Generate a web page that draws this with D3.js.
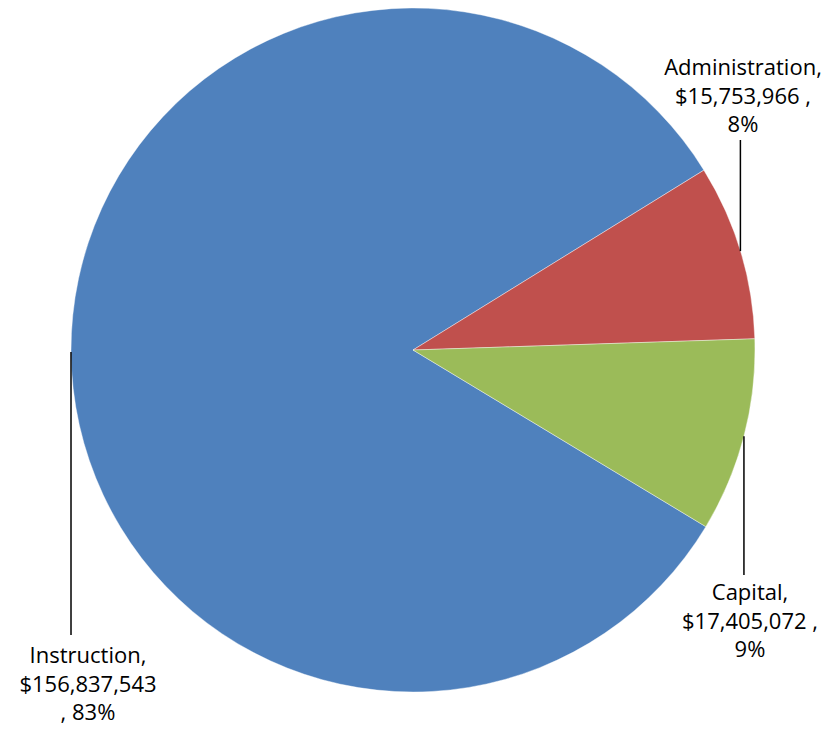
<!DOCTYPE html>
<html>
<head>
<meta charset="utf-8">
<script src="https://cdn.jsdelivr.net/npm/d3@7"></script>
<style>
  html, body { margin: 0; padding: 0; background: #fff; }
  svg { display: block; }
  text { font-family: "Open Sans", "Noto Sans", sans-serif; fill: #000; }
</style>
</head>
<body>
<script>
// Spending categories and dollar amounts
const categories = ["Instruction", "Administration", "Capital"];
const amounts = [156837543, 15753966, 17405072];
const colors = ["#4F81BD", "#C0504D", "#9BBB59"];

// Where each data label sits (text centre x, first baseline y) and where its leader line ends
const labelPos = [
  { x: 88, y: 663, lineEnd: 635, splitPct: true },
  { x: 743, y: 75, lineEnd: 140, splitPct: false },
  { x: 750, y: 600, lineEnd: 575, splitPct: false }
];

const W = 824, H = 734;
const cx = 413, cy = 350, R = 342;
const firstSliceAngle = 121.1 * Math.PI / 180;

const svg = d3.select("body").append("svg")
  .attr("width", W).attr("height", H);

const total = d3.sum(amounts);
const rows = categories.map((c, i) => ({ name: c, value: amounts[i], color: colors[i], pos: labelPos[i] }));

const pie = d3.pie()
  .sort(null)
  .value(d => d.value)
  .startAngle(firstSliceAngle)
  .endAngle(firstSliceAngle + 2 * Math.PI);

const arc = d3.arc().innerRadius(0).outerRadius(R);
const arcs = pie(rows);

const g = svg.append("g").attr("transform", `translate(${cx},${cy})`);

g.selectAll("path.slice")
  .data(arcs)
  .join("path")
  .attr("class", "slice")
  .attr("d", arc)
  .attr("fill", d => d.data.color)
  .attr("stroke", "#ffffff")
  .attr("stroke-opacity", 0.5)
  .attr("stroke-width", 0.8);

// Leader lines: from the arc at each slice's mid-angle straight to its label
const money = d3.format("$,");
arcs.forEach(d => {
  const mid = (d.startAngle + d.endAngle) / 2;
  const px = cx + R * Math.sin(mid);
  const py = cy - R * Math.cos(mid);
  svg.append("line")
    .attr("x1", px).attr("y1", py)
    .attr("x2", px).attr("y2", d.data.pos.lineEnd)
    .attr("stroke", "#000")
    .attr("stroke-width", 1.5);

  const pct = Math.round(d.data.value / total * 100) + "%";
  const lines = d.data.pos.splitPct
    ? [d.data.name + ",", money(d.data.value), ", " + pct]
    : [d.data.name + ",", money(d.data.value) + " ,", pct];

  // one text element per line of the label
  lines.forEach((s, i) => {
    svg.append("text")
      .attr("text-anchor", "middle")
      .attr("font-size", 22)
      .attr("x", d.data.pos.x)
      .attr("y", d.data.pos.y + i * 28.7)
      .text(s);
  });
});
</script>
</body>
</html>
